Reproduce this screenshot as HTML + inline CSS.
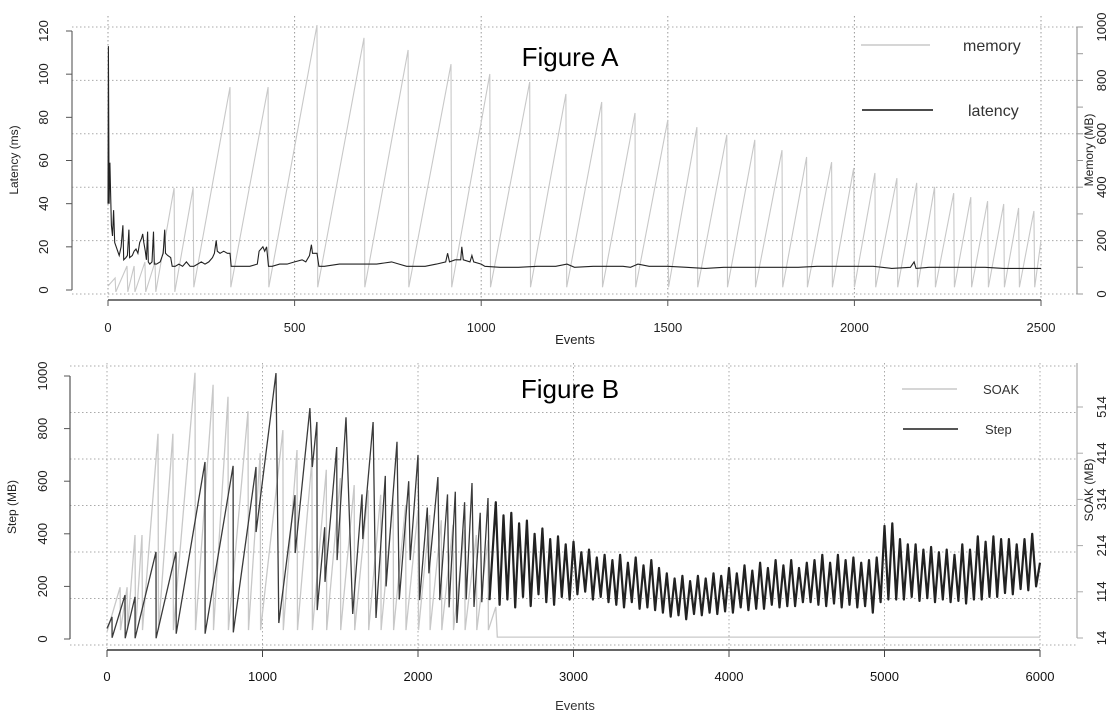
<!DOCTYPE html>
<html><head><meta charset="utf-8"><style>
html,body{margin:0;padding:0;background:#fff;}
svg{display:block;font-family:"Liberation Sans",Arial,sans-serif;}
</style></head><body>
<svg id="fig" width="1112" height="725" viewBox="0 0 1112 725" xmlns="http://www.w3.org/2000/svg">
<g id="gA"></g>
<g id="gB"></g>
</svg>
<script>
// ---------- Figure A data ----------
const memPeakEvents = [19,51,70,99,126,177,228,327,429,560,686,804,919,1023,1130,1227,1323,1412,1500,1578,1658,1733,1806,1872,1939,1998,2055,2114,2167,2215,2266,2312,2357,2400,2440,2481];
const memPeakValues = [60,105,105,120,120,397,397,775,775,1007,959,914,861,824,794,749,719,678,652,625,596,577,539,513,494,472,453,434,416,401,378,363,348,337,322,311];
const memStart = [0,30];
const memEnd = [2500,200];
const memTroughEarly = 8;
const memTroughLate = 25;
const latEvents = [0,1,3,5,7,9,12,15,18,22,26,30,35,40,42,48,52,56,58,65,70,75,80,85,90,93,96,100,103,106,108,112,118,122,124,130,140,148,152,154,160,168,172,180,190,200,210,220,230,240,250,260,270,280,285,290,293,300,310,320,327,330,340,360,380,400,405,410,415,420,425,430,440,460,480,500,520,530,540,545,548,555,560,565,580,600,620,640,660,680,700,720,740,760,780,800,820,850,880,905,910,915,930,945,948,952,970,975,980,1000,1010,1050,1100,1150,1200,1230,1250,1300,1350,1380,1400,1420,1450,1500,1550,1600,1650,1700,1750,1800,1850,1900,1950,2000,2050,2100,2150,2160,2165,2200,2250,2300,2350,2400,2450,2500];
const latValues = [40,113,40,59,45,30,25,37,22,20,18,16,20,30,14,15,16,28,15,16,18,19,17,22,24,26,22,18,14,27,13,12,13,27,12,12,13,17,28,17,16,15,11,11,12,11,13,11,11,12,13,12,13,15,17,23,18,17,18,17,17,11,11,11,11,12,18,19,20,18,20,11,11,12,12,13,14,13,16,21,17,17,17,11,11,11.5,12,12,12,12,12,12,12.5,13,12,11,11,11,12,13,17,13,14,14,20,14,13,16,13,12,11,10.5,10.5,11,11,12,10.5,11,11,11,10.5,12,11,11,10.5,10,10.5,10.5,10.5,10.5,10.5,11,11,11,11,10,10.5,13,10,10.5,10.5,10.5,10.5,10,10,10];
const aXTicks = [0,500,1000,1500,2000,2500];
const aLatTicks = [0,20,40,60,80,100,120];
const aMemTicks = [0,200,400,600,800,1000];

// ---------- Figure B data ----------
const stepEvents = [0,32,33,116,117,180,181,315,316,444,445,630,631,811,812,958,959,1087,1105,1209,1210,1305,1320,1350,1352,1400,1402,1477,1480,1537,1580,1640,1645,1711,1730,1790,1795,1865,1880,1940,1950,2000,2010,2060,2070,2128,2140,2190,2200,2240,2250,2300,2310,2347,2360,2400,2410,2450,2460];
const stepValues = [40,84,5,167,3,160,3,331,3,331,20,673,20,658,25,654,407,1011,61,547,327,878,654,825,110,425,217,730,300,843,95,550,380,825,80,620,200,750,150,600,300,700,148,500,250,616,148,550,120,560,61,520,150,593,122,480,140,536,148];
const stepDenseStart = 2500;
const stepDenseInterval = 25;
const stepDenseValues = [520,130,470,150, 480,120,440,160, 450,125,400,170, 420,140,380,130, 390,160,360,150, 370,170,330,180, 340,150,310,160, 320,140,300,130, 320,120,290,140, 310,115,280,120, 300,110,270,100, 250,85,230,90, 240,75,220,95, 240,90,230,100, 250,95,240,105, 270,100,250,120, 280,110,260,115, 290,115,270,130, 300,120,280,125, 300,125,270,140, 290,140,300,130, 320,125,290,135, 320,120,300,130, 310,120,290,125, 300,100,310,140, 430,150,440,150, 380,150,360,160, 360,145,340,155, 350,140,330,150, 340,140,320,145, 360,135,340,150, 390,150,370,160, 390,160,380,175, 380,170,360,190, 380,185,400,200, 290];
const soakPeakEvents = [84,129,180,225,328,424,566,682,778,907,985,1131,1222,1318,1410,1500,1590,1680,1760,1840,1920,2000,2075,2150,2225,2300,2375,2450];
const soakPeakValues = [124,124,237,237,456,456,588,562,536,505,414,464,421,399,378,360,345,334,324,313,302,291,280,269,259,248,237,226];
const soakStart = [0,27];
const soakTrough = 31;
const soakTail = [[2500,81],[2510,16],[6000,16]];
const bXTicks = [0,1000,2000,3000,4000,5000,6000];
const bStepTicks = [0,200,400,600,800,1000];
const bSoakTicks = [14,114,214,314,414,514];

// ---------- helpers ----------
const NS = "http://www.w3.org/2000/svg";
function mk(parent, tag, attrs, text){
  const e = document.createElementNS(NS, tag);
  for (const k in attrs) e.setAttribute(k, attrs[k]);
  if (text !== undefined) e.textContent = text;
  parent.appendChild(e);
  return e;
}
function poly(pts, sx, sy){ return pts.map(p => sx(p[0]).toFixed(1)+","+sy(p[1]).toFixed(1)).join(" "); }

// ---------- Figure A ----------
const gA = document.getElementById("gA");
const axA = e => 108 + e * (1041-108)/2500;
const ayLat = v => 290 - v * (290-31)/120;
const ayMem = v => 294 - v * (294-27)/1000;
aMemTicks.forEach(v => {
  const l = mk(gA, "line", {x1:72, x2:1077, y1:ayMem(v), y2:ayMem(v), stroke:"#aaa", "stroke-dasharray":"1.5,2.5", "stroke-width":1});
  
  
});
aXTicks.forEach(v => {
  const l = mk(gA, "line", {x1:axA(v), x2:axA(v), y1:16, y2:300, stroke:"#999", "stroke-dasharray":"1.5,2.5", "stroke-width":1});
  
  
});
const memPts = [memStart];
memPeakEvents.forEach((e,i) => {
  memPts.push([e, memPeakValues[i]]);
  memPts.push([e+2, e < 200 ? memTroughEarly : memTroughLate]);
});
memPts.push(memEnd);
const memLine = mk(gA, "polyline", {points: poly(memPts, axA, ayMem), fill:"none", stroke:"#c8c8c8", "stroke-width":1.1});


const latPts = latEvents.map((e,i) => [e, latValues[i]]);
const latLine = mk(gA, "polyline", {points: poly(latPts, axA, ayLat), fill:"none", stroke:"#222", "stroke-width":1.1});


let ax = mk(gA, "line", {x1:108, x2:1041, y1:300, y2:300, stroke:"#777", "stroke-width":2});
 
aXTicks.forEach(v => {
  mk(gA, "line", {x1:axA(v), x2:axA(v), y1:300, y2:306, stroke:"#555"});
  const t = mk(gA, "text", {x:axA(v), y:332, "text-anchor":"middle", "font-size":13, fill:"#222"}, v);
  
  
});
ax = mk(gA, "line", {x1:72, x2:72, y1:31, y2:290, stroke:"#666", "stroke-width":1.2});
 
aLatTicks.forEach(v => {
  mk(gA, "line", {x1:66, x2:72, y1:ayLat(v), y2:ayLat(v), stroke:"#555"});
  const t = mk(gA, "text", {x:0, y:0, transform:`translate(48,${ayLat(v)}) rotate(-90)`, "text-anchor":"middle", "font-size":13, fill:"#222"}, v);
  
  
});
ax = mk(gA, "line", {x1:1077, x2:1077, y1:27, y2:294, stroke:"#999", "stroke-width":1.2});
 
for (let v = 0; v <= 1000; v += 100) mk(gA, "line", {x1:1077, x2:1083, y1:ayMem(v), y2:ayMem(v), stroke:"#999"});
aMemTicks.forEach(v => {
  const t = mk(gA, "text", {x:0, y:0, transform:`translate(1106,${ayMem(v)}) rotate(-90)`, "text-anchor":"middle", "font-size":13, fill:"#222"}, v);
  
  
});
</script>
<svg style="position:absolute;left:0;top:0" width="1112" height="725">
<text transform="translate(18,160) rotate(-90)" text-anchor="middle" font-size="12" font-family="Liberation Sans, sans-serif" fill="#222">Latency (ms)</text>
<text transform="translate(1093,150) rotate(-90)" text-anchor="middle" font-size="12" font-family="Liberation Sans, sans-serif" fill="#222">Memory (MB)</text>
<text x="575" y="344" text-anchor="middle" font-size="13" font-family="Liberation Sans, sans-serif" fill="#222">Events</text>
<text x="570" y="66" text-anchor="middle" font-size="26" font-family="Liberation Sans, sans-serif" fill="#000">Figure A</text>
<g>
<line x1="861" x2="930" y1="45" y2="45" stroke="#c8c8c8" stroke-width="1.5"/>
<text x="963" y="51" font-size="16" font-family="Liberation Sans, sans-serif" fill="#333">memory</text>
<line x1="862" x2="933" y1="110" y2="110" stroke="#333" stroke-width="1.8"/>
<text x="968" y="116" font-size="16" font-family="Liberation Sans, sans-serif" fill="#333">latency</text>
</g>
<text transform="translate(16,507) rotate(-90)" text-anchor="middle" font-size="12" font-family="Liberation Sans, sans-serif" fill="#222">Step (MB)</text>
<text transform="translate(1093,490) rotate(-90)" text-anchor="middle" font-size="12" font-family="Liberation Sans, sans-serif" fill="#222">SOAK (MB)</text>
<text x="575" y="710" text-anchor="middle" font-size="13" font-family="Liberation Sans, sans-serif" fill="#333">Events</text>
<text x="570" y="398" text-anchor="middle" font-size="26" font-family="Liberation Sans, sans-serif" fill="#000">Figure B</text>
<g>
<line x1="902" x2="957" y1="389" y2="389" stroke="#c8c8c8" stroke-width="1.5"/>
<text x="983" y="394" font-size="13" font-family="Liberation Sans, sans-serif" fill="#333">SOAK</text>
<line x1="903" x2="958" y1="429" y2="429" stroke="#555" stroke-width="2"/>
<text x="985" y="434" font-size="13" font-family="Liberation Sans, sans-serif" fill="#333">Step</text>
</g>
</svg>
<script>
// ---------- Figure B ----------
const gB = document.getElementById("gB");
const axB = e => 107 + e * (1040-107)/6000;
const ayStep = v => 639 - v * (639-376)/1000;
const aySoak = v => 638 - (v-14) * (638-407)/500;
for (let k = 0; k <= 6; k++) {
  const y = 645 - k*46.5;
  const l = mk(gB, "line", {x1:70, x2:1077, y1:y, y2:y, stroke:"#aaa", "stroke-dasharray":"1.5,2.5"});
  
  
}
bXTicks.forEach(v => {
  const l = mk(gB, "line", {x1:axB(v), x2:axB(v), y1:363, y2:650, stroke:"#aaa", "stroke-dasharray":"1.5,2.5"});
  
  
});
const soakPts = [soakStart];
soakPeakEvents.forEach((e,i) => {
  soakPts.push([e, soakPeakValues[i]]);
  soakPts.push([e+3, soakTrough]);
});
soakTail.forEach(p => soakPts.push(p));
const soakLine = mk(gB, "polyline", {points: poly(soakPts, axB, aySoak), fill:"none", stroke:"#c8c8c8", "stroke-width":1.3});


const stepPts = stepEvents.map((e,i) => [e, stepValues[i]]);
const stepLine = mk(gB, "polyline", {points: poly(stepPts, axB, ayStep), fill:"none", stroke:"#3a3a3a", "stroke-width":1.3});


const densePts = [stepPts[stepPts.length-1]];
stepDenseValues.forEach((v,i) => densePts.push([stepDenseStart + i*stepDenseInterval, v]));
const denseLine = mk(gB, "polyline", {points: poly(densePts, axB, ayStep), fill:"none", stroke:"#222", "stroke-width":2.2, "stroke-linejoin":"round"});


let bx = mk(gB, "line", {x1:107, x2:1040, y1:650, y2:650, stroke:"#666", "stroke-width":2});
 
bXTicks.forEach(v => {
  mk(gB, "line", {x1:axB(v), x2:axB(v), y1:650, y2:657, stroke:"#444"});
  const t = mk(gB, "text", {x:axB(v), y:681, "text-anchor":"middle", "font-size":13, fill:"#111"}, v);
  
  
});
bx = mk(gB, "line", {x1:70, x2:70, y1:376, y2:639, stroke:"#555", "stroke-width":1.2});
 
bStepTicks.forEach(v => {
  mk(gB, "line", {x1:64, x2:70, y1:ayStep(v), y2:ayStep(v), stroke:"#555"});
  const t = mk(gB, "text", {x:0, y:0, transform:`translate(47,${ayStep(v)}) rotate(-90)`, "text-anchor":"middle", "font-size":13, fill:"#222"}, v);
  
  
});
bx = mk(gB, "line", {x1:1077, x2:1077, y1:363, y2:638, stroke:"#aaa", "stroke-width":1.2});
 
bSoakTicks.forEach(v => {
  mk(gB, "line", {x1:1077, x2:1083, y1:aySoak(v), y2:aySoak(v), stroke:"#aaa"});
  const t = mk(gB, "text", {x:0, y:0, transform:`translate(1106,${aySoak(v)}) rotate(-90)`, "text-anchor":"middle", "font-size":13, fill:"#222"}, v);
  
  
});
</script>
</body></html>
